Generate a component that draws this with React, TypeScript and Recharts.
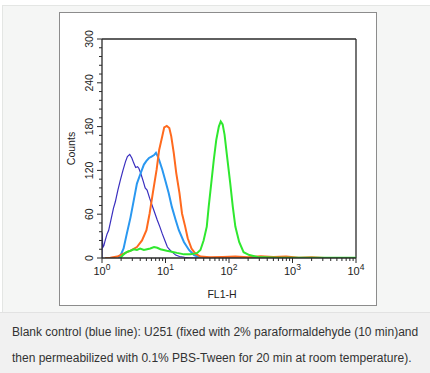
import React from "react";
import { LineChart, Line, XAxis, YAxis, ReferenceLine } from "recharts";

// log10(FL1-H) positions and counts for each histogram
const navyX = [0, 0.003, 0.008, 0.016, 0.03, 0.05, 0.08, 0.105, 0.14, 0.18, 0.21, 0.25, 0.29, 0.33, 0.37, 0.40, 0.437, 0.47, 0.50, 0.53, 0.56, 0.58, 0.61, 0.65, 0.68, 0.71, 0.75, 0.79, 0.83, 0.87, 0.91, 0.95, 0.99, 1.03, 1.08, 1.12, 1.16, 1.22, 1.3, 1.4, 4];
const navyY = [0, 35, 22, 15, 17, 24, 33, 38, 52, 68, 77, 93, 107, 120, 132, 139, 142, 137, 130, 124, 125, 123, 116, 105, 96, 93, 82, 72, 62, 52, 43, 33, 24, 15, 10, 7, 4, 2, 1, 0, 0];

const blueX = [0.26, 0.3, 0.34, 0.39, 0.45, 0.5, 0.55, 0.6, 0.66, 0.7, 0.74, 0.78, 0.82, 0.85, 0.88, 0.9, 0.95, 1.0, 1.05, 1.1, 1.16, 1.21, 1.29, 1.37, 1.45, 1.55, 4];
const blueY = [0, 5, 13, 33, 56, 79, 102, 114, 128, 133, 137, 139, 141, 144, 139, 134, 121, 105, 89, 70, 52, 38, 22, 11, 4, 0.5, 0];

const orangeX = [0.05, 0.13, 0.24, 0.34, 0.45, 0.55, 0.63, 0.7, 0.75, 0.8, 0.86, 0.9, 0.95, 0.98, 1.02, 1.06, 1.09, 1.13, 1.17, 1.22, 1.26, 1.31, 1.35, 1.41, 1.47, 1.55, 1.7, 1.9, 2.1, 2.3, 2.5, 2.7, 2.9, 3.1, 3.3, 3.5, 4];
const orangeY = [0, 0.5, 2, 6, 10, 15, 24, 38, 61, 89, 121, 148, 167, 179, 181, 178, 167, 144, 116, 89, 61, 43, 27, 13, 6, 2, 1, 1.5, 2, 1, 2.5, 1.5, 2, 0.5, 1, 0, 0];

const greenX = [0.29, 0.33, 0.37, 0.41, 0.45, 0.5, 0.55, 0.6, 0.66, 0.71, 0.76, 0.82, 0.87, 0.92, 0.97, 1.02, 1.08, 1.13, 1.18, 1.24, 1.29, 1.34, 1.39, 1.45, 1.5, 1.55, 1.6, 1.65, 1.68, 1.72, 1.76, 1.8, 1.84, 1.87, 1.9, 1.93, 1.97, 2.02, 2.06, 2.1, 2.16, 2.23, 2.32, 2.45, 2.76, 4];
const greenY = [0, 4, 7, 9, 10, 12, 11, 13, 11, 12, 13, 15, 14, 12, 11, 10, 9, 8, 7, 6, 5, 5, 5, 6, 7, 11, 24, 43, 70, 102, 134, 162, 180, 187, 183, 169, 139, 102, 70, 43, 22, 8, 4, 1.5, 0.5, 0.5];

const xMajorExponents = ["0", "1", "2", "3", "4"];
const yTickLabels = [0, 60, 120, 180, 240, 300];
const captionLines = [
  "Blank control (blue line): U251 (fixed with 2% paraformaldehyde (10 min)and",
  "then permeabilized with 0.1% PBS-Tween for 20 min at room temperature).",
];

const toData = (xs: number[], ys: number[]) => xs.map((x, i) => ({ x, y: ys[i] }));
const navyData = toData(navyX, navyY);
const blueData = toData(blueX, blueY);
const orangeData = toData(orangeX, orangeY);
const greenData = toData(greenX, greenY);

const xTicks: number[] = [];
for (let d = 0; d < 4; d++) {
  xTicks.push(d);
  for (let k = 2; k <= 9; k++) xTicks.push(d + Math.log10(k));
}
xTicks.push(4);

const yTicks: number[] = [];
for (let v = 0; v <= 300; v += 12) yTicks.push(v);

const AXIS = "#2a2a2a";
const FONT = "Liberation Sans, Arial, Helvetica, sans-serif";

const XTick = (props: any) => {
  const { x, y, payload } = props;
  const v = payload.value as number;
  const idx = Math.round(v);
  const major = Math.abs(v - idx) < 1e-6;
  return (
    <g>
      <line x1={x} x2={x} y1={y} y2={y + (major ? 5 : 3)} stroke={AXIS} strokeWidth={1} />
      {major && (
        <text x={x} y={y + 17} textAnchor="middle" fontSize={11} fill="#222" fontFamily={FONT}>
          10<tspan dy={-5} fontSize={8.5}>{xMajorExponents[idx]}</tspan>
        </text>
      )}
    </g>
  );
};

const YTick = (props: any) => {
  const { x, y, payload } = props;
  const v = payload.value as number;
  const major = yTickLabels.includes(v);
  return (
    <g>
      <line x1={x} x2={x - (major ? 5 : 3)} y1={y} y2={y} stroke={AXIS} strokeWidth={1} />
      {major && (
        <text
          x={x - 9}
          y={y}
          transform={`rotate(-90 ${x - 9} ${y})`}
          textAnchor="middle"
          fontSize={10.5}
          fill="#222"
          fontFamily={FONT}
        >
          {v}
        </text>
      )}
    </g>
  );
};

export default function App() {
  return (
    <div style={{ position: "absolute", left: 0, top: 0, width: 430, height: 373, background: "#ffffff", overflow: "hidden" }}>
      <div style={{ position: "absolute", left: 2, top: 5, width: 428, height: 307, background: "#f5f6f5", borderTop: "1px solid #e4e6e4", borderLeft: "1px solid #e4e6e4", boxSizing: "border-box" }} />
      <div style={{ position: "absolute", left: 0, top: 312, width: 430, height: 61, background: "#f1f1f1", borderTop: "1px solid #e2e2e2", boxSizing: "border-box" }} />
      <div style={{ position: "absolute", left: 59, top: 12, width: 318, height: 294, background: "#ffffff", border: "1.5px solid #8c8c8c", boxSizing: "border-box" }} />
      <div style={{ position: "absolute", left: 59, top: 12 }}>
        <LineChart width={318} height={294} margin={{ top: 27, right: 21, bottom: 0, left: 0 }}>
          <XAxis
            dataKey="x"
            type="number"
            domain={[0, 4]}
            ticks={xTicks}
            interval={0}
            tick={<XTick />}
            tickLine={false}
            tickSize={0}
            tickMargin={0}
            height={48}
            axisLine={{ stroke: AXIS, strokeWidth: 1.3 }}
            allowDataOverflow
            label={{ value: "FL1-H", position: "insideBottom", offset: 8, dx: -7, fontSize: 10.5, fill: "#222", fontFamily: FONT }}
          />
          <YAxis
            type="number"
            domain={[0, 300]}
            ticks={yTicks}
            interval={0}
            tick={<YTick />}
            tickLine={false}
            tickSize={0}
            tickMargin={0}
            width={43}
            axisLine={{ stroke: AXIS, strokeWidth: 1.3 }}
            allowDataOverflow
            label={{ value: "Counts", angle: -90, position: "insideLeft", offset: 12, fontSize: 10.5, fill: "#222", fontFamily: FONT, style: { textAnchor: "middle" } }}
          />
          <ReferenceLine y={300} stroke={AXIS} strokeWidth={1.3} />
          <ReferenceLine x={4} stroke={AXIS} strokeWidth={1.3} />
          <Line data={navyData} dataKey="y" type="linear" stroke="#3a2fbf" strokeWidth={1.2} dot={false} isAnimationActive={false} />
          <Line data={blueData} dataKey="y" type="linear" stroke="#2a98f0" strokeWidth={2} dot={false} isAnimationActive={false} />
          <Line data={orangeData} dataKey="y" type="linear" stroke="#ff6a1e" strokeWidth={2} dot={false} isAnimationActive={false} />
          <Line data={greenData} dataKey="y" type="linear" stroke="#2fe82f" strokeWidth={2} dot={false} isAnimationActive={false} />
        </LineChart>
      </div>
      {captionLines.map((t, i) => (
        <div
          key={i}
          style={{ position: "absolute", left: 12, top: 325 + i * 26, fontSize: 12, color: "#333", fontFamily: FONT, whiteSpace: "nowrap", lineHeight: "14px" }}
        >
          {t}
        </div>
      ))}
    </div>
  );
}
